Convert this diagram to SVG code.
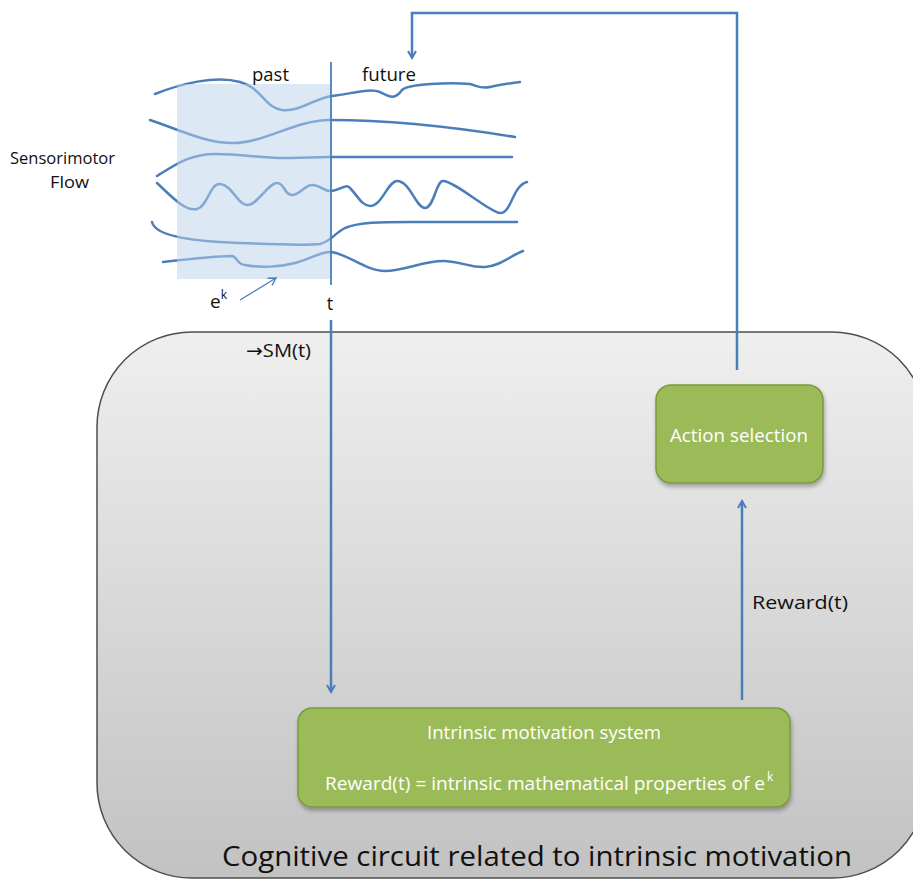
<svg xmlns="http://www.w3.org/2000/svg" width="913" height="881" viewBox="0 0 913 881">
<style>
.flow{fill:none;stroke:#4a7ebb;stroke-width:2.5;stroke-linecap:round}
.conn{fill:none;stroke:#4a7ebb;stroke-width:2.5}
.lbl{font-family:"Open Sans","Liberation Sans",sans-serif;fill:#111}
.box{fill:#9bbb59;stroke:#7c9a3c;stroke-width:1.5}
.boxt{font-family:"Open Sans","Liberation Sans",sans-serif;fill:#fff;font-size:18px}
.sup{font-size:12px}
.arr{font-family:"DejaVu Sans",sans-serif}
</style>
<defs>
<linearGradient id="bg" x1="0" y1="0" x2="0" y2="1">
<stop offset="0" stop-color="#efefef"/>
<stop offset="1" stop-color="#c2c2c2"/>
</linearGradient>
<marker id="ah" viewBox="0 0 10 10" refX="8" refY="5" markerWidth="4" markerHeight="4" orient="auto">
<path d="M1,1 L8,5 L1,9" fill="none" stroke="#4a7ebb" stroke-width="2"/>
</marker>
<marker id="ahs" viewBox="0 0 10 10" refX="8" refY="5" markerWidth="8" markerHeight="8" orient="auto">
<path d="M1,1 L8,5 L1,9" fill="none" stroke="#4a7ebb" stroke-width="1.3"/>
</marker>
<filter id="sh" x="-10%" y="-10%" width="120%" height="130%">
<feDropShadow dx="1" dy="3" stdDeviation="2" flood-color="#000" flood-opacity="0.3"/>
</filter>
</defs>

<g id="circuit">
<rect x="97" y="332" width="830" height="546" rx="95" ry="95" fill="url(#bg)" stroke="#4d4d4d" stroke-width="1.5"/>
<text class="lbl" x="222" y="866" font-size="27" textLength="630" lengthAdjust="spacingAndGlyphs">Cognitive circuit related to intrinsic motivation</text>
</g>

<g id="sensorimotor-flow">
<text class="lbl" x="10" y="164" font-size="16.5" textLength="105" lengthAdjust="spacingAndGlyphs">Sensorimotor</text>
<text class="lbl" x="50" y="188" font-size="16.5" textLength="39" lengthAdjust="spacingAndGlyphs">Flow</text>
<path class="flow" d="M155,94 C180,84 215,75 240,82 C262,88 265,108 282,110 C300,112 315,98 332,96 C355,93 370,88 380,92 C390,97 395,100 402,90 C408,84 450,82 470,84 C478,86 480,89 490,87 C500,85 510,83 520,82"/>
<path class="flow" d="M150,120 C180,130 205,143 233,143 C265,143 295,120 330,120 C400,120 460,128 515,137"/>
<path class="flow" d="M157,176 C175,165 190,154 215,154 C245,154 265,159 290,158 L330,157 L512,157"/>
<path class="flow" d="M157,183 C170,195 185,212 197,209 C208,206 210,183 220,184 C232,185 238,205 247,205 C258,205 268,183 277,183 C285,183 284,195 292,195 C300,195 305,184 313,185 C322,186 323,191 330,191 C340,191 345,183 350,188 C357,195 362,206 370,206 C382,206 388,181 397,181 C410,181 416,208 425,208 C434,208 436,181 443,181 C455,181 490,213 500,213 C512,213 512,186 527,182"/>
<path class="flow" d="M152,222 C155,235 185,240 220,242 C260,244 300,246 320,244 C330,242 335,233 345,228 C360,222 380,222 410,222 L517,222"/>
<path class="flow" d="M163,262 C190,259 220,256 232,256 C238,257 236,264 245,265 C260,268 280,267 295,263 C310,259 320,252 330,252 C345,252 365,271 385,271 C405,271 425,260 445,261 C465,262 470,268 485,267 C500,266 510,256 523,251"/>
<rect x="177" y="84" width="154" height="195" fill="#bcd2ec" opacity="0.5"/>
<line x1="331" y1="62" x2="331" y2="285" stroke="#4a7ebb" stroke-width="1.8"/>
<text class="lbl" x="252" y="81" font-size="18" textLength="37" lengthAdjust="spacingAndGlyphs">past</text>
<text class="lbl" x="362" y="81" font-size="18" textLength="54" lengthAdjust="spacingAndGlyphs">future</text>
<text class="lbl" x="330" y="310" font-size="18" text-anchor="middle">t</text>
<text class="lbl" x="210" y="308" font-size="19">e<tspan class="sup" dy="-9">k</tspan></text>
<line x1="240" y1="300" x2="276" y2="278" stroke="#4a7ebb" stroke-width="1.3" marker-end="url(#ahs)"/>
</g>

<g id="intrinsic-motivation-system">
<rect class="box" x="298" y="708" width="492" height="99" rx="14" filter="url(#sh)"/>
<text class="boxt" x="427" y="739" textLength="234" lengthAdjust="spacingAndGlyphs">Intrinsic motivation system</text>
<text class="boxt" x="325" y="790" textLength="440" lengthAdjust="spacingAndGlyphs">Reward(t) = intrinsic mathematical properties of  e</text>
<text class="boxt sup" x="767" y="781">k</text>
</g>

<g id="action-selection">
<rect class="box" x="656" y="385" width="167" height="98" rx="15" filter="url(#sh)"/>
<text class="boxt" x="670" y="442" textLength="138" lengthAdjust="spacingAndGlyphs">Action selection</text>
</g>

<g id="connectors">
<path class="conn" d="M331,320 L331,692" marker-end="url(#ah)"/>
<path class="conn" d="M742,700 L742,501" marker-end="url(#ah)"/>
<path class="conn" d="M737,370 L737,13 L412,13 L412,58" marker-end="url(#ah)"/>
<text class="lbl" x="246" y="357" font-size="18" textLength="65" lengthAdjust="spacingAndGlyphs"><tspan class="arr">→</tspan>SM(t)</text>
<text class="lbl" x="752" y="609" font-size="18.5" textLength="96" lengthAdjust="spacingAndGlyphs">Reward(t)</text>
</g>
</svg>
